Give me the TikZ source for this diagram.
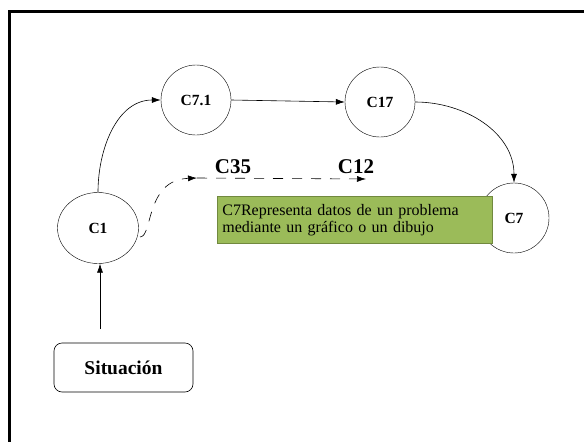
\documentclass[tikz,border=0pt]{standalone}
\usepackage{fontspec}
\setmainfont{Liberation Serif}
\usetikzlibrary{arrows.meta,shapes.geometric}
\definecolor{boxgreen}{HTML}{9BBB59}
\definecolor{boxedge}{HTML}{71893F}
\begin{document}
\begin{tikzpicture}[x=1pt,y=-1pt,
  state/.style={draw,circle,minimum size=70pt,inner sep=0pt,font=\fontsize{15.5}{18}\selectfont\bfseries},
  link/.style={-{Latex[length=9pt,width=6pt]},line width=0.6pt},
  dashlink/.style={link,dash pattern=on 10pt off 9pt},
  tag/.style={font=\fontsize{21}{24}\selectfont\bfseries,inner sep=0pt},
  note/.style={draw=boxedge,fill=boxgreen,line width=0.8pt,align=left,inner xsep=5pt,
    minimum width=275pt,minimum height=47pt,text width=265pt,
    font=\fontsize{16}{17}\selectfont},
  start/.style={draw,rounded corners=8pt,line width=0.6pt,minimum width=139pt,minimum height=49pt,
    font=\fontsize{19.5}{22}\selectfont\bfseries}]
  \useasboundingbox (0,0) rectangle (584,442);
  % frame on the top and left edges
  \draw[line width=2.7pt] (9.3,442) -- (9.3,11.3) -- (584,11.3);

  % states
  \node[state,ellipse,minimum width=81pt,minimum height=71pt] (c1) at (98,228) {C1};
  \node[state] (c71) at (196,100) {C7.1};
  \node[state] (c17) at (380,102) {C17};
  \node[state] (c7) at (514,218) {C7};

  % description of C7
  \node[note,anchor=north west] (desc) at (217,196)
    {C7Representa datos de un problema\\mediante un gráfico o un dibujo};

  % starting situation
  \node[start] (sit) at (123.5,367.5) {Situación};
  \coordinate (sitTop) at (100,329);

  % solid path through the states
  \draw[link] (sitTop) -- (c1.south -| sitTop);
  \draw[link] (c1.north) to[out=90,in=180] (c71.west);
  \draw[link] (c71.east) -- (c17.west);
  \draw[link] (c17.east) to[out=0,in=90] (c7.north);

  % dashed alternative path
  \coordinate (d0) at (140,237);
  \coordinate (d1) at (197,178);
  \coordinate (d2) at (366,179);
  \draw[dashlink] (d0) .. controls (153,237) and (145,180) .. (d1);
  \draw[dashlink] (d1) -- (d2);
  \node[tag] (c35) at (233,167) {C35};
  \node[tag] (c12) at (356,167) {C12};
\end{tikzpicture}
\end{document}
